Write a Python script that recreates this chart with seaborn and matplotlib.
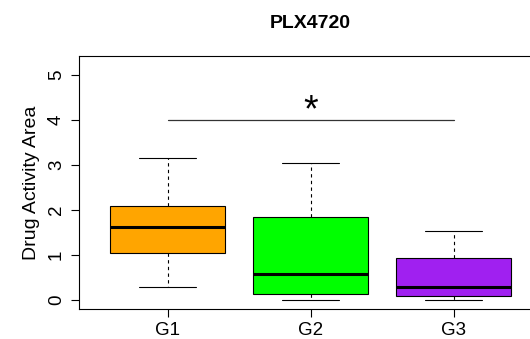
import pandas as pd
import seaborn as sns
import matplotlib.pyplot as plt

# five-number summaries (min, q1, median, q3, max)
groups = ["G1", "G2", "G3"]
g1_vals = [0.27, 1.04, 1.61, 2.07, 3.15]
g2_vals = [0.00, 0.13, 0.57, 1.84, 3.04]
g3_vals = [0.00, 0.08, 0.28, 0.93, 1.52]
box_colors = ["#FFA500", "#00FF00", "#A020F0"]
y_ticks = [0, 1, 2, 3, 4, 5]
sig_level = 4.0

df = pd.DataFrame({
    "group": ["G1"] * len(g1_vals) + ["G2"] * len(g2_vals) + ["G3"] * len(g3_vals),
    "value": g1_vals + g2_vals + g3_vals,
})

sns.set_style("white")
plt.rcParams["font.family"] = ["Liberation Sans", "DejaVu Sans"]
plt.rcParams["text.color"] = "black"
plt.rcParams["axes.labelcolor"] = "black"
plt.rcParams["xtick.color"] = "black"
plt.rcParams["ytick.color"] = "black"

fig = plt.figure(figsize=(5.3, 3.39), dpi=100)
ax = fig.add_axes([0.149, 0.0885, 0.874, 0.7472])

sns.boxplot(data=df, x="group", y="value", hue="group", order=groups,
            palette=box_colors, saturation=1, width=0.8, whis=(0, 100),
            linecolor="black", linewidth=0.8, legend=False, ax=ax,
            whiskerprops=dict(linestyle=(0, (3, 3)), color="black", linewidth=0.8),
            capprops=dict(color="black", linewidth=0.8),
            medianprops=dict(color="black", linewidth=2.2),
            boxprops=dict(edgecolor="black", linewidth=0.8))

# significance bar G1 vs G3
ax.plot([0, 2], [sig_level, sig_level], color="#333333", linewidth=0.9)
ax.text(1, sig_level - 0.22, "*", ha="center", va="bottom", fontsize=27)

ax.set_xlim(-0.62, 2.62)
ax.set_ylim(-0.21, 5.42)
ax.set_yticks(y_ticks)
ax.set_yticklabels([str(t) for t in y_ticks], rotation=90, va="center")
ax.set_xlabel("")
ax.set_ylabel("Drug Activity Area", fontsize=14, labelpad=6)
ax.tick_params(axis="both", direction="out", length=6, width=0.8,
               labelsize=13.5, left=True, bottom=True)
ax.tick_params(axis="y", pad=4)
for s in ax.spines.values():
    s.set_color("black")
    s.set_linewidth(0.8)

fig.text(0.585, 0.93, "PLX4720", ha="center", va="center",
         fontsize=14, fontweight="bold")

fig.savefig("out.png", dpi=100)
